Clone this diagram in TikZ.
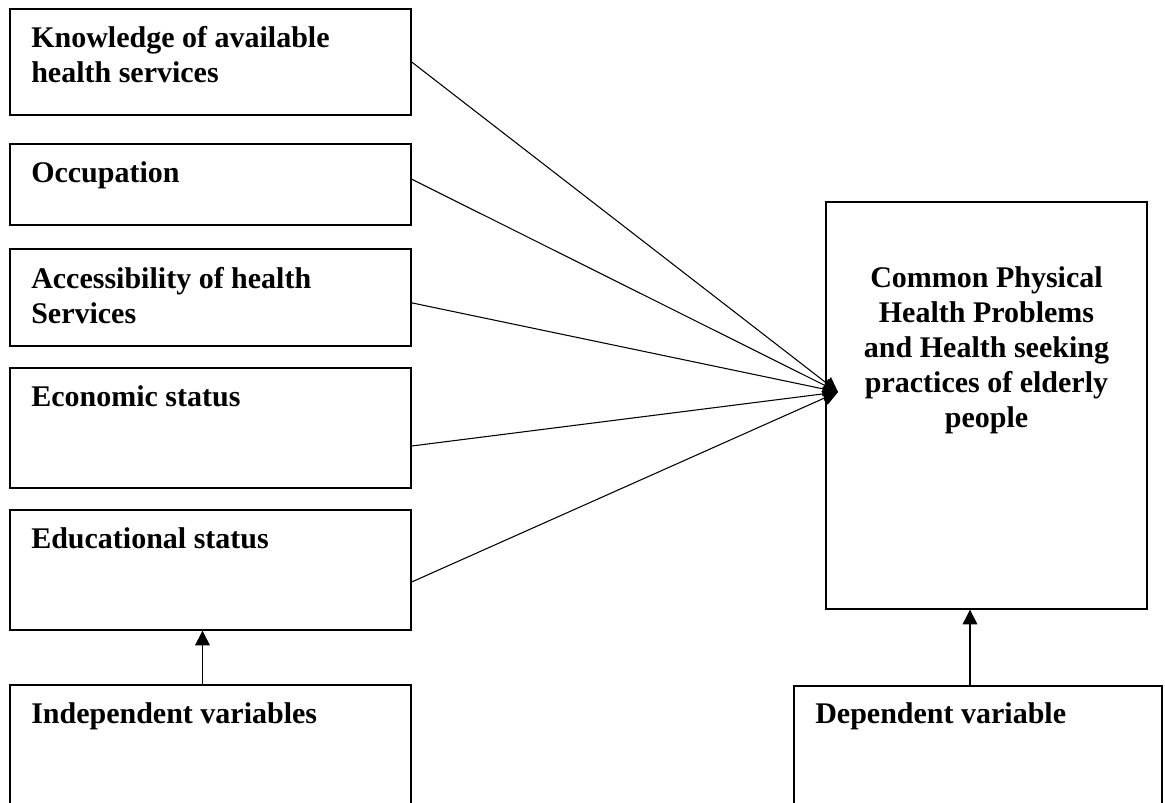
\documentclass[tikz,border=0pt]{standalone}
\usepackage{fontspec}
\setmainfont{Liberation Serif}
\usetikzlibrary{fit}
\usetikzlibrary{arrows.meta}

\begin{document}
\begin{tikzpicture}[x=0.75pt,y=-0.75pt]
    \useasboundingbox (0,0) rectangle (1165,803);
    \clip (0,0) rectangle (1165,803);

    \tikzstyle{every node}=[draw,line width=1pt,inner sep=0pt]
    % independent variables
    \node[fit={(10,9) (411,115)}](know){};
    \node[fit={(10,144) (411,225)}](occ){};
    \node[fit={(10,249) (411,346)}](acc){};
    \node[fit={(10,368) (411,488)}](eco){};
    \node[fit={(10,510) (411,630)}](edu){};
    \node[fit={(10,685) (411,840)}](indep){};
    % dependent variable
    \node[fit={(826,202) (1147,609)}](prob){};
    \node[fit={(794,686) (1162,840)}](dep){};

    \tikzstyle{every node}=[font=\fontsize{22.5}{26.25}\selectfont\bfseries,align=left,anchor=base west,inner sep=0pt]
    \node(knowtxt) at (31,82){Knowledge of available\\health services};
    \node(occtxt) at (31,182){Occupation};
    \node(acctxt) at (31,323){Accessibility of health\\Services};
    \node(ecotxt) at (31,406){Economic status};
    \node(edutxt) at (31,548){Educational status};
    \node(indeptxt) at (31,723){Independent variables};
    \node(deptxt) at (815,723){Dependent variable};
    \node[align=center,anchor=center](probtxt) at (986.5,350){Common Physical\\Health Problems\\and Health seeking\\practices of elderly\\people};

    \tikzstyle{every node}=[]
    \tikzstyle{every path}=[line width=0.8pt]
    \coordinate (hub) at (838,392);

    % arrows into the problem box
    \draw[-{Triangle[length=11pt,width=11pt]}](know.east)--(hub);
    \draw[-{Triangle[length=11pt,width=11pt]}]([yshift=4pt]occ.east)--(hub);
    \draw[-{Triangle[length=11pt,width=11pt]}]([yshift=-4pt]acc.east)--(hub);
    \draw[-{Triangle[length=11pt,width=11pt]}]([yshift=-13.5pt]eco.east)--(hub);
    \draw[-{Triangle[length=11pt,width=11pt]}]([yshift=-9pt]edu.east)--(hub);

    % arrows from the variable labels
    \draw[-{Triangle[length=11pt,width=11pt]}]([xshift=-6pt]indep.north)--([xshift=-6pt]edu.south);
    \draw[-{Triangle[length=11pt,width=11pt]}](dep.north -| 970,0)--(prob.south -| 970,0);

\end{tikzpicture}
\end{document}
